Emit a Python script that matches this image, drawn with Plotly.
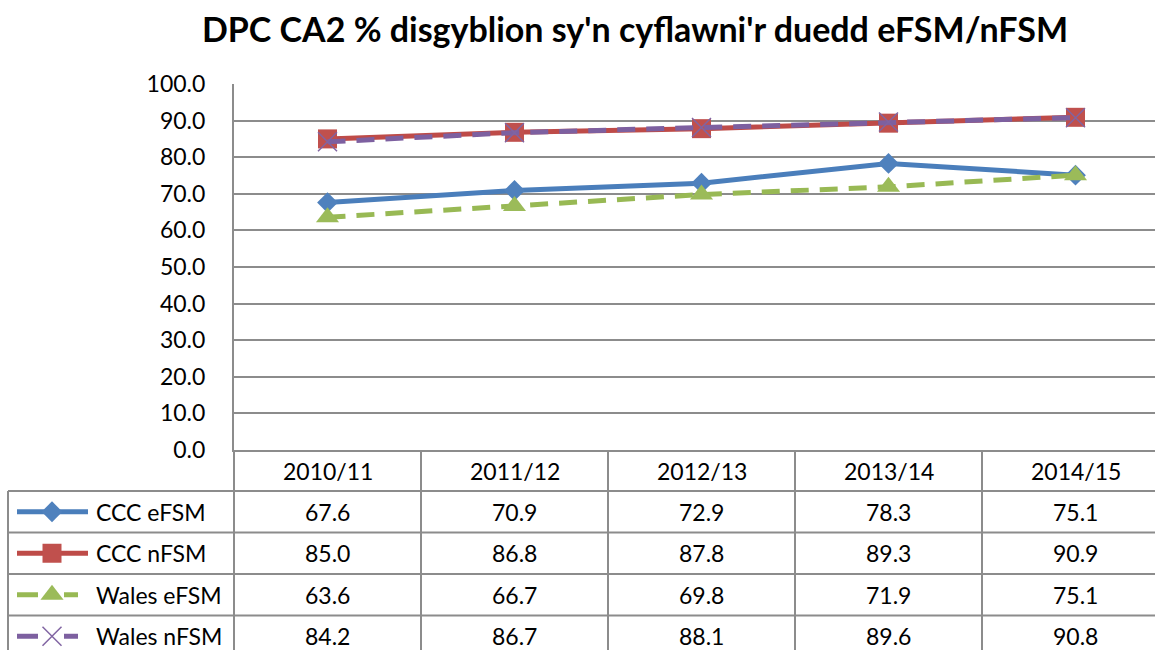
import plotly.graph_objects as go

categories = ["2010/11", "2011/12", "2012/13", "2013/14", "2014/15"]
series_names = ["CCC eFSM", "CCC nFSM", "Wales eFSM", "Wales nFSM"]
ccc_efsm = [67.6, 70.9, 72.9, 78.3, 75.1]
ccc_nfsm = [85.0, 86.8, 87.8, 89.3, 90.9]
wales_efsm = [63.6, 66.7, 69.8, 71.9, 75.1]
wales_nfsm = [84.2, 86.7, 88.1, 89.6, 90.8]
title_text = "DPC CA2 % disgyblion sy'n cyflawni'r duedd eFSM/nFSM"

series_values = [ccc_efsm, ccc_nfsm, wales_efsm, wales_nfsm]

W, H = 1155, 650
FONT = "Lato"
GRID = "#8c8c8c"
colors = ["#4A7EBB", "#BE4B48", "#98B954", "#7D60A0"]
mcolors = ["#4F81BD", "#C0504D", "#9BBB59", "#8064A2"]
symbols = ["diamond", "square", "triangle-up", "x-thin-open"]
msizes = [16, 19, 20, 19]
dashes = ["solid", "solid", "18px,11px", "18px,11px"]

plot_left, plot_top, plot_bottom = 234, 84, 450
cat_w = 187.0
table_left = 8
row_edges = [450, 491, 532.5, 574, 615.5, 657]


def py(p):
    return 1 - p / H


fig = go.Figure()

for i, name in enumerate(series_names):
    fig.add_trace(go.Scatter(
        x=categories, y=series_values[i], name=name, mode="lines+markers",
        line=dict(color=colors[i], width=5, dash=dashes[i]),
        marker=dict(symbol=symbols[i], size=msizes[i], color=mcolors[i],
                    line=dict(color=mcolors[i], width=1.5 if i == 3 else 0)),
        showlegend=False, hoverinfo="skip", cliponaxis=False,
    ))

# legend keys inside the data table (pixel axes)
for i, name in enumerate(series_names):
    yc = (row_edges[i + 1] + row_edges[i + 2]) / 2
    if dashes[i] == "solid":
        lx, ly = [17, 88], [yc, yc]
    else:
        lx, ly = [17, 38, None, 64, 78], [yc, yc, None, yc, yc]
    fig.add_trace(go.Scatter(x=lx, y=ly, mode="lines", xaxis="x2", yaxis="y2",
                             line=dict(color=colors[i], width=5),
                             showlegend=False, hoverinfo="skip"))
    fig.add_trace(go.Scatter(x=[52], y=[yc], mode="markers", xaxis="x2", yaxis="y2",
                             marker=dict(symbol=symbols[i], size=msizes[i], color=mcolors[i],
                                         line=dict(color=mcolors[i], width=1.5 if i == 3 else 0)),
                             showlegend=False, hoverinfo="skip"))

shapes = []
line_style = dict(color=GRID, width=2)
for p in row_edges[1:5]:
    shapes.append(dict(type="line", xref="paper", yref="paper", x0=table_left / W, x1=1,
                       y0=py(p), y1=py(p), line=line_style))
shapes.append(dict(type="line", xref="paper", yref="paper", x0=table_left / W, x1=table_left / W,
                   y0=py(row_edges[1]), y1=0, line=line_style))
shapes.append(dict(type="line", xref="paper", yref="paper", x0=plot_left / W, x1=plot_left / W,
                   y0=py(plot_bottom), y1=0, line=line_style))
for k in range(len(categories)):
    shapes.append(dict(type="line", xref="x", yref="paper", x0=k + 0.5, x1=k + 0.5,
                       y0=py(plot_bottom), y1=0, line=line_style))

annotations = []
tfont = dict(family=FONT, size=23, color="#000000")
for k, c in enumerate(categories):
    annotations.append(dict(x=c, y=py((row_edges[0] + row_edges[1]) / 2), xref="x", yref="paper",
                            text=c, showarrow=False, font=tfont, xanchor="center", yanchor="middle"))
    for i in range(len(series_names)):
        yc = (row_edges[i + 1] + row_edges[i + 2]) / 2
        annotations.append(dict(x=c, y=py(yc), xref="x", yref="paper",
                                text=f"{series_values[i][k]:.1f}", showarrow=False, font=tfont,
                                xanchor="center", yanchor="middle"))
for i, name in enumerate(series_names):
    yc = (row_edges[i + 1] + row_edges[i + 2]) / 2
    annotations.append(dict(x=94 / W, y=py(yc), xref="paper", yref="paper", text=name,
                            showarrow=False, font=tfont, xanchor="left", yanchor="middle"))

fig.update_layout(
    width=W, height=H,
    margin=dict(l=0, r=0, t=0, b=0, autoexpand=False),
    paper_bgcolor="white", plot_bgcolor="rgba(0,0,0,0)",
    title=dict(text=title_text, x=635 / W, y=py(30), xanchor="center", yanchor="middle",
               font=dict(family=FONT, size=34, color="#000000", weight="bold")),
    xaxis=dict(domain=[plot_left / W, 1], range=[-0.5, -0.5 + (W - plot_left) / cat_w],
               showticklabels=False, showgrid=False, zeroline=False, automargin=False,
               showline=True, linecolor=GRID, linewidth=2, ticks=""),
    yaxis=dict(domain=[py(plot_bottom), py(plot_top)], range=[0, 100], dtick=10,
               tickformat=".1f", showgrid=True, gridcolor=GRID, gridwidth=2, zeroline=False,
               showline=True, linecolor=GRID, linewidth=2, ticks="", automargin=False,
               ticklabelstandoff=22, tickfont=tfont),
    xaxis2=dict(domain=[0, 1], range=[0, W], visible=False, anchor="y2", automargin=False),
    yaxis2=dict(domain=[0, 1], range=[H, 0], visible=False, anchor="x2", automargin=False),
    shapes=shapes, annotations=annotations,
    font=dict(family=FONT),
)

fig.write_html("out.html", config={"displayModeBar": False},
               post_script="document.body.style.margin='0';document.body.style.overflow='hidden';")
